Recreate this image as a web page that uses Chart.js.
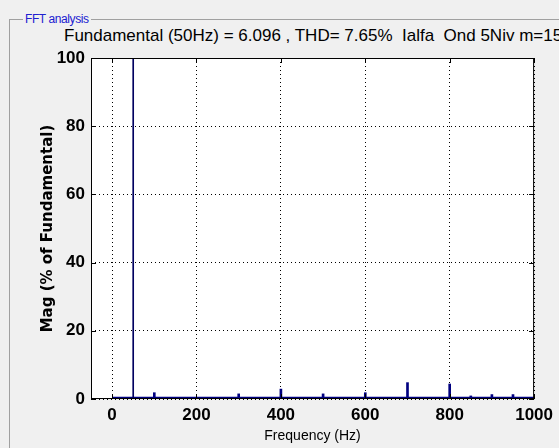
<!DOCTYPE html>
<html>
<head>
<meta charset="utf-8">
<script src="https://cdn.jsdelivr.net/npm/chart.js@4.4.1/dist/chart.umd.min.js"></script>
<style>
  html, body { margin: 0; padding: 0; background: #f0f0f0; overflow: hidden; }
  #wrap { position: relative; width: 559px; height: 448px; overflow: hidden; }
  #frame { position: absolute; left: 9px; top: 19px; width: 700px; height: 600px;
           border-top: 1px solid #a0a0a0; border-left: 1px solid #a0a0a0; }
  #frame span { position: absolute; left: 13px; top: -8px; padding: 0 2px; background: #f0f0f0;
                color: #2020d0; font: 12px 'Liberation Sans', sans-serif; letter-spacing: -0.4px; }
  #title { position: absolute; left: 64px; top: 26px; white-space: nowrap;
           font: 17px 'Liberation Sans', sans-serif; color: #000; }
  canvas { position: absolute; left: 0; top: 0; }
</style>
</head>
<body>
<div id="wrap">
  <div id="frame"><span>FFT analysis</span></div>
  <div id="title">Fundamental (50Hz) = 6.096 , THD= 7.65%&nbsp; Ialfa&nbsp; Ond 5Niv m=15</div>
  <canvas id="fft" width="559" height="448"></canvas>
</div>
<script>
// spectrum (% of fundamental)
const fundFreq = [50];
const fundMag = [100];
const harmFreqs = [100, 300, 400, 500, 600, 700, 800, 850, 900, 950];
const harmMags = [1.85, 1.5, 2.9, 1.5, 1.85, 4.8, 4.4, 0.9, 1.3, 1.3];
// small noise floor along the whole band
const floorFreqs = [0, 1000];
const floorMags = [0.4, 0.4];

const xTicks = [0, 200, 400, 600, 800, 1000];
const yTicks = [0, 20, 40, 60, 80, 100];

const navy = '#000080';
const tickFont = { family: "'Liberation Sans', sans-serif", size: 17, weight: 'bold' };

// white axes box, black frame and inward tick marks like matlab
const axesBox = {
    id: 'axesBox',
    beforeDraw(chart) {
        const a = chart.chartArea, ctx = chart.ctx;
        ctx.save();
        ctx.fillStyle = '#fff';
        ctx.fillRect(a.left, a.top, a.right - a.left, a.bottom - a.top);
        ctx.restore();
    },
    afterDatasetsDraw(chart) {
        const a = chart.chartArea, ctx = chart.ctx;
        const xs = chart.scales.x, ys = chart.scales.y;
        ctx.save();
        ctx.strokeStyle = '#000';
        ctx.lineWidth = 1;
        ctx.strokeRect(a.left + 0.5, a.top + 0.5, a.right - a.left - 1, a.bottom - a.top - 1);
        ctx.beginPath();
        xTicks.forEach(v => {
            const px = Math.round(xs.getPixelForValue(v)) + 0.5;
            ctx.moveTo(px, a.bottom); ctx.lineTo(px, a.bottom - 5);
            ctx.moveTo(px, a.top); ctx.lineTo(px, a.top + 5);
        });
        yTicks.forEach(v => {
            const py = Math.round(ys.getPixelForValue(v)) + 0.5;
            ctx.moveTo(a.left, py); ctx.lineTo(a.left + 5, py);
            ctx.moveTo(a.right, py); ctx.lineTo(a.right - 5, py);
        });
        ctx.stroke();
        ctx.restore();
    }
};

new Chart(document.getElementById('fft'), {
    type: 'bar',
    data: {
        datasets: [
            {
                type: 'line',
                data: floorFreqs.map((f, i) => ({ x: f, y: floorMags[i] })),
                borderColor: navy,
                borderWidth: 2,
                pointRadius: 0,
                order: 3
            },
            {
                data: harmFreqs.map((f, i) => ({ x: f, y: harmMags[i] })),
                backgroundColor: navy,
                barThickness: 2,
                grouped: false,
                order: 2
            },
            {
                data: fundFreq.map((f, i) => ({ x: f, y: fundMag[i] })),
                backgroundColor: '#000060',
                barThickness: 1,
                grouped: false,
                order: 1
            }
        ]
    },
    options: {
        responsive: false,
        animation: false,
        layout: { padding: { left: 39, top: 58, right: 21, bottom: 3 } },
        plugins: { legend: { display: false }, tooltip: { enabled: false } },
        scales: {
            x: {
                type: 'linear',
                min: -50,
                max: 1000,
                offset: false,
                afterBuildTicks: s => { s.ticks = xTicks.map(v => ({ value: v })); },
                afterFit: s => { s.height = 46; },
                grid: { color: '#000', lineWidth: 1, drawTicks: false, offset: false },
                border: { display: false, dash: [1, 3] },
                ticks: { color: '#000', font: tickFont, padding: 6, maxRotation: 0, autoSkip: false,
                         callback: v => String(v) },
                title: {
                    display: true,
                    text: 'Frequency (Hz)',
                    color: '#000',
                    font: { family: "'Liberation Sans', sans-serif", size: 14 },
                    padding: { top: 0, bottom: 0 }
                }
            },
            y: {
                min: 0,
                max: 100,
                afterBuildTicks: s => { s.ticks = yTicks.map(v => ({ value: v })); },
                afterFit: s => { s.width = 52; },
                grid: { color: '#000', lineWidth: 1, drawTicks: false },
                border: { display: false, dash: [1, 3] },
                ticks: { color: '#000', font: tickFont, padding: 6, callback: v => String(v) },
                title: {
                    display: true,
                    text: 'Mag (% of Fundamental)',
                    color: '#000',
                    font: { family: "'DejaVu Sans', sans-serif", size: 15, weight: 'bold' },
                    padding: { top: 0, bottom: 0 }
                }
            }
        }
    },
    plugins: [axesBox]
});
</script>
</body>
</html>
